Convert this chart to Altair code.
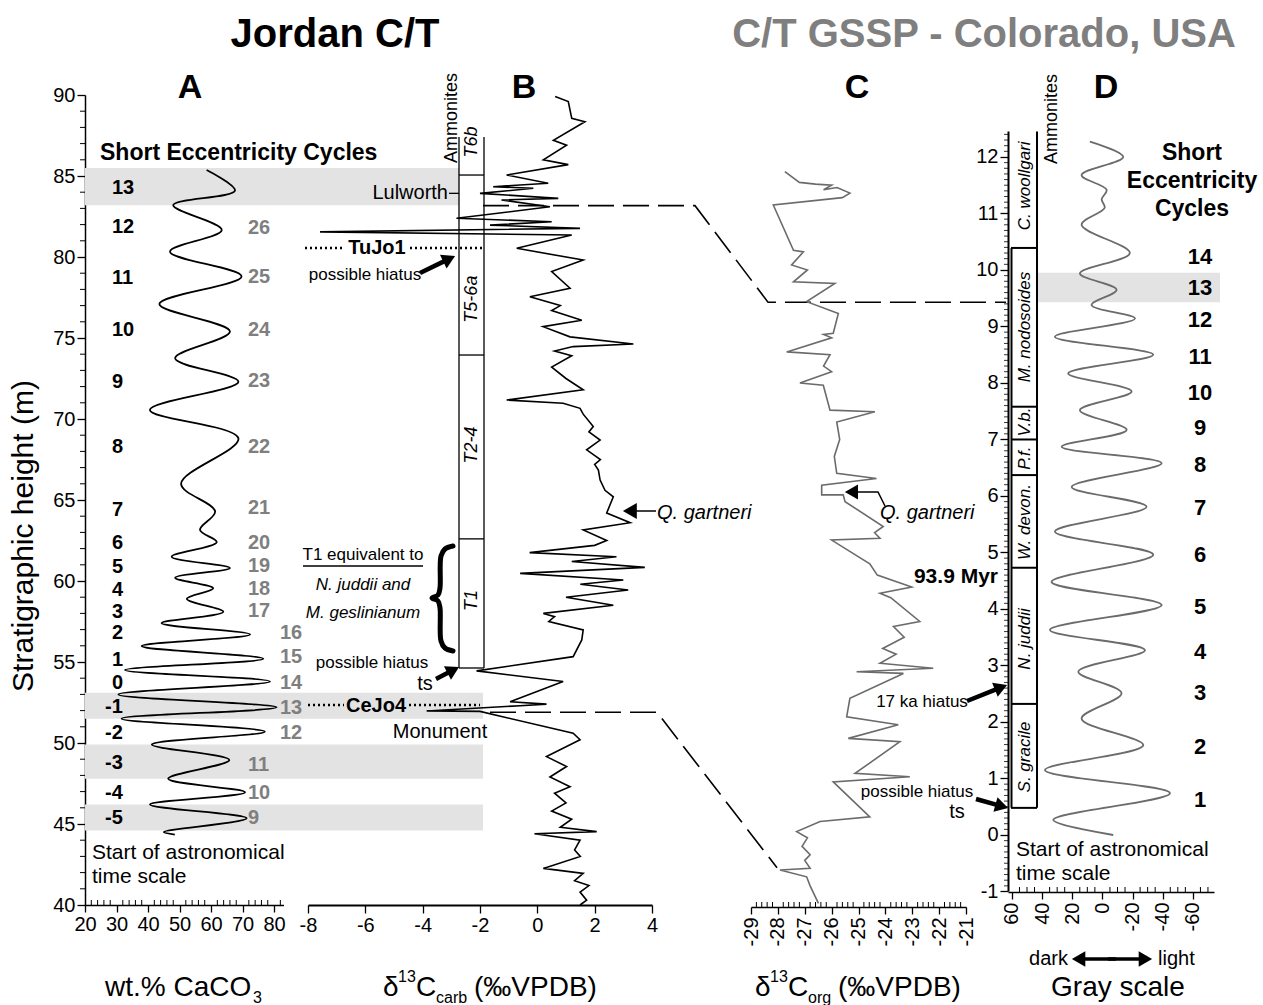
import math
import altair as alt
import pandas as pd

FONT = "Liberation Sans, Arial, Helvetica, sans-serif"
NARROW = "Liberation Sans Narrow, Arial Narrow, Liberation Sans, Arial, sans-serif"
W, H = 1130, 810
PADL, PADT, PADR, PADB = 85, 95, 48, 100
BAND = "#e3e3e3"
GTXT = "#7f7f7f"
GLINE = "#6b6b6b"

# ---------------- data ----------------
J_DOM = [40, 90]            # Jordan stratigraphic height (m)
C_DOM = [-1.239, 13.097]    # Colorado height (m), aligned to the same frame

A_CACO3 = [58.6, 67.6, 48.0, 63.4, 47.0, 69.7, 43.6, 66.0, 48.6, 68.7,
           40.6, 68.7, 50.5, 61.3, 56.5, 61.8, 47.5, 66.0, 48.6, 60.7,
           52.3, 63.9, 44.3, 72.4, 38.0, 76.6, 32.7, 78.7, 30.6, 80.8,
           31.6, 77.1, 41.2, 65.8, 46.4, 70.8, 40.6, 71.3, 45.0, 48.5]
A_HEIGHT = [85.37, 84.1, 83.2, 81.67, 80.33, 78.8, 77.1, 75.4, 73.75, 72.3,
            70.56, 68.8, 66.0, 64.3, 63.15, 62.4, 61.5, 60.8, 60.2, 59.55,
            58.9, 58.1, 57.4, 56.7, 55.98, 55.2, 54.5, 53.8, 53.0, 52.2,
            51.5, 50.7, 49.9, 48.95, 47.8, 46.96, 46.2, 45.35, 44.5, 44.35]

B_D13C = [0.62, 1.08, 1.2, 1.66, 0.56, 1.02, 0.21, 1.08, -1.07, 0.38,
          -1.54, -0.14, -2.0, 0.73, -1.25, 0.44, -2.82, 0.5, -1.65, 1.49,
          -7.58, 1.2, -0.72, 1.6, 0.5, 1.14,
          -0.26, 0.8, 0.5, 1.55, 0.2, 1.14, 3.35, 1.25, 0.6, 1.2,
          0.5, 1.0, 1.6, -1.07, 0.9, 1.49, 1.6, 1.95, 1.8, 2.19,
          1.72, 2.2, 2.0, 2.13, 2.19, 2.36, 2.65, 2.42, 3.24, 1.6,
          2.42, 2.0, -0.27, 2.76, 1.2, 3.75, -0.6, 3.0, 1.5, 3.17,
          1.0, 2.65, 0.21, 0.6, 0.4, 1.6, 1.55, 1.25, -2.12, 0.9,
          -0.95, 0.32, -0.6, -3.86, -2.0, 1.25, 1.49, 0.32, 1.02, 0.44,
          1.14, 0.6, 1.0, 0.5, 1.2, 0.8, 2.07, -0.1, 1.49, 1.3,
          1.5, 0.21, 1.6, 1.3, 1.8, 1.49, 1.72, 1.49]
B_HEIGHT = [89.9, 89.6, 88.56, 88.35, 87.2, 86.9, 86.0, 85.7, 85.06, 84.55,
            84.34, 84.24, 83.93, 83.62, 83.52, 83.1, 82.39, 82.18, 81.97, 81.77,
            81.55, 81.36, 80.54, 79.81, 79.1, 78.07,
            77.55, 77.0, 76.7, 76.1, 75.7, 75.07, 74.63, 74.47, 74.2, 73.9,
            73.2, 72.5, 71.8, 71.17, 70.97, 70.66, 70.3, 69.53, 69.2, 68.7,
            68.1, 67.5, 67.2, 66.85, 66.23, 65.6, 65.2, 64.2, 63.6, 63.15,
            62.5, 62.2, 61.75, 61.5, 61.2, 60.84, 60.47, 60.06, 59.8, 59.44,
            59.0, 58.5, 58.0, 57.8, 57.5, 56.98, 56.36, 55.33, 54.45, 53.8,
            52.55, 52.4, 52.3, 51.98, 51.95, 50.6, 50.2, 49.16, 48.55, 47.9,
            47.3, 46.9, 46.3, 45.8, 45.3, 44.8, 44.53, 44.4, 44.0, 43.4,
            43.0, 42.26, 41.95, 41.5, 41.2, 40.8, 40.3, 40.0]

C_D13C = [-27.74, -27.2, -26.6, -26.0, -26.3, -25.8, -25.32, -25.6, -28.17, -27.42,
          -27.05, -27.49, -26.9, -27.42, -25.88, -26.93, -25.75, -25.94, -26.3, -26.0,
          -27.67, -26.06, -26.3, -26.0, -27.18, -26.31, -26.06, -24.39, -25.81, -25.7,
          -25.9, -25.81, -24.33, -26.37, -26.37, -25.57, -25.5, -24.08, -24.4, -24.2,
          -26.0, -24.58, -24.3, -23.02, -24.2, -23.8, -22.72, -23.7, -23.3, -24.1,
          -23.6, -24.2, -22.22, -25.07, -23.33, -25.32, -25.44, -23.52, -25.38, -23.46,
          -25.13, -23.09, -25.94, -24.58, -26.43, -27.3, -26.9, -27.1, -26.8, -27.0,
          -26.8, -27.92, -26.93, -26.8, -26.49]
C_HEIGHT = [11.74, 11.55, 11.52, 11.50, 11.42, 11.46, 11.36, 11.28, 11.15, 10.35,
            10.32, 10.09, 10.0, 9.79, 9.76, 9.44, 9.23, 8.88, 8.86, 8.8,
            8.55, 8.5, 8.3, 8.2, 8.0, 7.96, 7.52, 7.49, 7.31, 7.0,
            6.7, 6.4, 6.31, 6.19, 6.02, 6.02, 5.9, 5.46, 5.35, 5.25,
            5.22, 4.8, 4.6, 4.39, 4.28, 4.2, 3.78, 3.69, 3.5, 3.3,
            3.2, 3.04, 2.95, 2.89, 2.86, 2.42, 2.09, 1.95, 1.71, 1.65,
            1.09, 1.03, 0.94, 0.32, 0.24, 0.06, -0.05, -0.2, -0.35, -0.45,
            -0.59, -0.62, -0.74, -0.9, -1.21]

D_GRAY = [8.3, -13.8, 13.8, -2.8, 0.5, -1.5, 13.8, -18.2, 14.9, -9.4,
          7.2, -21.6, 31.5, -33.7, 22.7, -19.4, 14.9, -16.1, 27.0, -39.3,
          20.4, -29.3, 31.5, -33.7, 33.7, -39.3, 34.8, -28.2, 16.0, -12.7,
          13.8, -27.1, 38.1, -44.8, 32.6, -7.2]
D_HEIGHT = [12.27, 12.0, 11.68, 11.42, 11.25, 11.1, 10.8, 10.3, 9.94, 9.65,
            9.38, 9.14, 8.82, 8.5, 8.17, 7.85, 7.52, 7.17, 6.87, 6.58,
            6.16, 5.81, 5.37, 4.96, 4.48, 4.07, 3.63, 3.27, 2.89, 2.51,
            2.06, 1.59, 1.15, 0.74, 0.27, 0.0]

# short eccentricity cycle labels
A_CYCLES = [13, 12, 11, 10, 9, 8, 7, 6, 5, 4, 3, 2, 1, 0, -1, -2, -3, -4, -5]
A_CYCLE_H = [84.26, 81.85, 78.7, 75.49, 72.28, 68.27, 64.38, 62.35, 60.86, 59.44,
             58.09, 56.79, 55.12, 53.7, 52.22, 50.62, 48.77, 46.91, 45.37]
A_CYCLES2 = [26, 25, 24, 23, 22, 21, 20, 19, 18, 17, 16, 15, 14, 13, 12, 11, 10, 9]
A_CYCLE2_H = [81.79, 78.77, 75.49, 72.35, 68.27, 64.51, 62.35, 60.93, 59.51, 58.15,
              56.79, 55.31, 53.7, 52.16, 50.62, 48.64, 46.91, 45.37]
D_CYCLES = [14, 13, 12, 11, 10, 9, 8, 7, 6, 5, 4, 3, 2, 1]
D_CYCLE_H = [10.23, 9.68, 9.12, 8.46, 7.82, 7.2, 6.55, 5.79, 4.96, 4.04,
             3.24, 2.51, 1.56, 0.62]

# grey cycle bands
J_BAND_LO = [83.2, 51.5, 47.8, 44.6]          # Jordan only
J_BAND_HI = [85.5, 53.1, 49.9, 46.2]
CORR_J_LO = [77.2, 70.6, 63.2, 60.2, 57.6, 54.5]   # correlated Jordan -> Colorado
CORR_J_HI = [80.5, 73.9, 66.0, 61.6, 58.8, 56.1]
CORR_C_LO = [8.18, 6.90, 5.38, 3.68, 2.07, 0.30]
CORR_C_HI = [8.81, 7.40, 6.19, 4.51, 2.88, 1.12]
C_BAND_LO = [9.43]                              # Colorado only
C_BAND_HI = [9.95]

# ammonite zones
J_ZONE_BOUNDS = [87.41, 85.06, 73.95, 62.6, 54.63]
J_ZONES = ["T6b", "T5-6a", "T2-4", "T1"]
J_ZONE_LABEL_H = [87.1, 77.4, 68.4, 58.8]
C_ZONE_BOUNDS = [12.45, 10.39, 7.58, 7.0, 6.37, 4.73, 2.32, 0.48]
C_ZONES = ["C. woollgari", "M. nodosoides", "V.b.", "P.f.", "W. devon.", "N. juddii", "S. gracile"]
C_ZONE_LABEL_H = [11.49, 8.99, 7.31, 6.67, 5.54, 3.47, 1.38]

# correlation (dashed) levels
LULWORTH_J = 83.17
LULWORTH_C = 9.43
MONUMENT_J = 51.9
MONUMENT_C = -0.58
TUJO1_H = 80.56
CEJO4_H = 52.35

# axis tick values
A_TICKS = [20, 30, 40, 50, 60, 70, 80]
B_TICKS = [-8, -6, -4, -2, 0, 2, 4]
C_TICKS = [-29, -28, -27, -26, -25, -24, -23, -22, -21]
D_TICKS = [60, 40, 20, 0, -20, -40, -60]
J_TICKS = [40, 45, 50, 55, 60, 65, 70, 75, 80, 85, 90]
CO_TICKS = list(range(-1, 13))


# ---------------- helpers ----------------
def co2jo(c):
    return J_DOM[0] + (c - C_DOM[0]) * (J_DOM[1] - J_DOM[0]) / (C_DOM[1] - C_DOM[0])


def S(domain, rng=None):
    kw = dict(domain=domain, nice=False, zero=False)
    if rng is not None:
        kw["range"] = rng
    return alt.Scale(**kw)


SJ = lambda: S(J_DOM)
SC = lambda: S(C_DOM)
SPX = lambda: S([PADL, PADL + W], [0, W])
SPY = lambda: S([PADT, PADT + H], [0, H])
SA = lambda: S([20, 83], [0, 198.5])
SB = lambda: S([-8, 4], [223, 567])
SCO = lambda: S([-29, -21], [666, 881])
SD = lambda: S([62.6, -74], [923, 1129])

AX = dict(grid=False, labelColor="black", tickColor="black",
          domainColor="black", tickWidth=1.3, title=None, labelOverlap=False,
          labelFlush=False, labelExpr="replace(datum.label, '\u2212', '-')")


def T(text, x, y, size, weight="normal", style="normal", align="center",
      baseline="middle", color="black", angle=0):
    return dict(text=str(text), x=x, y=y, size=size, weight=weight, style=style,
                align=align, baseline=baseline, color=color, angle=angle)


def text_layers(items, xs, ys):
    df = pd.DataFrame(items)
    out = []
    for (wt, st, al, bl), g in df.groupby(["weight", "style", "align", "baseline"]):
        out.append(alt.Chart(g).mark_text(font=FONT, fontWeight=wt, fontStyle=st,
                                          align=al, baseline=bl).encode(
            x=alt.X("x:Q", scale=xs(), axis=None),
            y=alt.Y("y:Q", scale=ys(), axis=None),
            text="text:N",
            size=alt.Size("size:Q", scale=None),
            color=alt.Color("color:N", scale=None),
            angle=alt.Angle("angle:Q", scale=None)))
    return out


def rules(df, xs, ys, color="black", **kw):
    return alt.Chart(df).mark_rule(color=color, **kw).encode(
        x=alt.X("x:Q", scale=xs(), axis=None), x2="x2:Q",
        y=alt.Y("y:Q", scale=ys(), axis=None), y2="y2:Q")


# ---------------- background group (px x, Jordan y) ----------------
jb = pd.DataFrame({"x": 85, "x2": 483, "y": J_BAND_LO, "y2": J_BAND_HI})
bands_j = alt.Chart(jb).mark_rect(color=BAND).encode(
    x=alt.X("x:Q", scale=SPX(), axis=None), x2="x2:Q",
    y=alt.Y("y:Q", scale=SJ(), axis=None), y2="y2:Q")

CONN_X0 = [702, 698, 700, 695, 658, 657]
CONN_X1 = [768, 765, 765, 792, 787, 805]
rows = []
for k in range(len(CORR_J_LO)):
    for xx, lo, hi in [(85, CORR_J_LO[k], CORR_J_HI[k]),
                       (CONN_X0[k], CORR_J_LO[k], CORR_J_HI[k]),
                       (CONN_X1[k], co2jo(CORR_C_LO[k]), co2jo(CORR_C_HI[k])),
                       (1220, co2jo(CORR_C_LO[k]), co2jo(CORR_C_HI[k]))]:
        rows.append(dict(band=k, x=xx, lo=lo, hi=hi))
conn = alt.Chart(pd.DataFrame(rows)).mark_area(color=BAND, orient="vertical").encode(
    x=alt.X("x:Q", scale=SPX(), axis=None),
    y=alt.Y("lo:Q", scale=SJ(), axis=None), y2="hi:Q",
    detail="band:N", order="x:Q")

jcol = alt.Chart(pd.DataFrame({"x": [459], "x2": [484], "y": [J_ZONE_BOUNDS[-1]],
                               "y2": [J_ZONE_BOUNDS[0]]})).mark_rect(color="white").encode(
    x=alt.X("x:Q", scale=SPX(), axis=None), x2="x2:Q",
    y=alt.Y("y:Q", scale=SJ(), axis=None), y2="y2:Q")

dash_rows = [dict(g=0, x=483, y=LULWORTH_J), dict(g=0, x=695, y=LULWORTH_J),
             dict(g=0, x=768, y=co2jo(LULWORTH_C)), dict(g=0, x=1006, y=co2jo(LULWORTH_C)),
             dict(g=1, x=490, y=MONUMENT_J), dict(g=1, x=657, y=MONUMENT_J),
             dict(g=1, x=777, y=co2jo(MONUMENT_C))]
dashed = alt.Chart(pd.DataFrame(dash_rows)).mark_line(
    color="black", strokeWidth=1.6, strokeDash=[26, 9]).encode(
    x=alt.X("x:Q", scale=SPX(), axis=None),
    y=alt.Y("y:Q", scale=SJ(), axis=None), detail="g:N", order="x:Q")

G_bg = alt.layer(bands_j, conn, jcol, dashed)

# ---------------- background group (px x, Colorado y) ----------------
cb = pd.DataFrame({"x": 1037, "x2": 1220, "y": C_BAND_LO, "y2": C_BAND_HI})
bands_c = alt.Chart(cb).mark_rect(color=BAND).encode(
    x=alt.X("x:Q", scale=SPX(), axis=None), x2="x2:Q",
    y=alt.Y("y:Q", scale=SC(), axis=None), y2="y2:Q")
ccol = alt.Chart(pd.DataFrame({"x": [1011], "x2": [1037], "y": [C_ZONE_BOUNDS[-1]],
                               "y2": [C_ZONE_BOUNDS[0]]})).mark_rect(color="white").encode(
    x=alt.X("x:Q", scale=SPX(), axis=None), x2="x2:Q",
    y=alt.Y("y:Q", scale=SC(), axis=None), y2="y2:Q")
G_bgC = alt.layer(bands_c, ccol)

# ---------------- panel A ----------------
dfA = pd.DataFrame({"v": A_CACO3, "h": A_HEIGHT, "i": range(len(A_CACO3))})
G_A = alt.Chart(dfA).mark_line(color="black", strokeWidth=1.8, interpolate="catmull-rom").encode(
    x=alt.X("v:Q", scale=SA(), axis=alt.Axis(orient="bottom", values=A_TICKS, tickSize=7,
                                              labelPadding=2, domainWidth=1.5,
                                              labelFont=NARROW, labelFontSize=20, **AX)),
    y=alt.Y("h:Q", scale=SJ(), axis=alt.Axis(orient="left", values=J_TICKS, tickSize=8,
                                              labelPadding=2, domainWidth=1.5,
                                              labelFont=FONT, labelFontSize=20, **AX)),
    order="i:Q")
a_xminor = alt.Chart(pd.DataFrame({"v": [v for v in range(22, 83, 2) if v % 10]})).mark_rule(
    color="black", strokeWidth=1).encode(
    x=alt.X("v:Q", scale=SA(), axis=None), y=alt.value(H), y2=alt.value(H - 5))
a_yminor = alt.Chart(pd.DataFrame({"h": [v for v in range(41, 90) if v % 5]})).mark_rule(
    color="black", strokeWidth=1).encode(
    y=alt.Y("h:Q", scale=SJ(), axis=None), x=alt.value(-5), x2=alt.value(0))

# ---------------- panel B ----------------
dfB = pd.DataFrame({"v": B_D13C, "h": B_HEIGHT, "i": range(len(B_D13C))})
G_B = alt.Chart(dfB).mark_line(color="black", strokeWidth=1.6).encode(
    x=alt.X("v:Q", scale=SB(), axis=alt.Axis(orient="bottom", values=B_TICKS, tickSize=8,
                                              labelPadding=2, domainWidth=2.2,
                                              labelFont=FONT, labelFontSize=20, **AX)),
    y=alt.Y("h:Q", scale=SJ(), axis=None), order="i:Q")

# ---------------- panel C ----------------
dfC = pd.DataFrame({"v": C_D13C, "h": C_HEIGHT, "i": range(len(C_D13C))})
G_C = alt.Chart(dfC).mark_line(color=GLINE, strokeWidth=1.6).encode(
    x=alt.X("v:Q", scale=SCO(), axis=alt.Axis(orient="bottom", values=C_TICKS, tickSize=7,
                                               offset=2, labelAngle=270, labelAlign="right",
                                               labelBaseline="middle", labelPadding=3,
                                               domainWidth=1.5, labelFont=FONT,
                                               labelFontSize=20, **AX)),
    y=alt.Y("h:Q", scale=SC(), axis=None), order="i:Q")
c_minor = alt.Chart(pd.DataFrame({"v": [round(-29 + 0.2 * k, 2) for k in range(41) if k % 5]})).mark_rule(
    color="black", strokeWidth=1).encode(
    x=alt.X("v:Q", scale=SCO(), axis=None), y=alt.value(H + 2), y2=alt.value(H - 3))

# ---------------- panel D ----------------
dfD = pd.DataFrame({"v": D_GRAY, "h": D_HEIGHT, "i": range(len(D_GRAY))})
G_D = alt.Chart(dfD).mark_line(color=GLINE, strokeWidth=1.8, interpolate="catmull-rom").encode(
    x=alt.X("v:Q", scale=SD(), axis=alt.Axis(orient="bottom", values=D_TICKS, tickSize=7,
                                              offset=-13, labelAngle=270, labelAlign="right",
                                              labelBaseline="middle", labelPadding=3,
                                              domainWidth=1.5, labelFont=FONT,
                                              labelFontSize=20, **AX)),
    y=alt.Y("h:Q", scale=SC(), axis=alt.Axis(orient="left", offset=-923, values=CO_TICKS,
                                              tickSize=8, domain=False, labelPadding=2,
                                              labelFont=FONT, labelFontSize=20, **AX)),
    order="i:Q")
d_xminor = alt.Chart(pd.DataFrame({"v": [v for v in range(60, -75, -5) if v % 20]})).mark_rule(
    color="black", strokeWidth=1).encode(
    x=alt.X("v:Q", scale=SD(), axis=None), y=alt.value(797), y2=alt.value(792))
d_yminor = alt.Chart(pd.DataFrame({"h": [round(-1 + 0.1 * k, 2) for k in range(135) if k % 10]})).mark_rule(
    color="black", strokeWidth=0.8).encode(
    y=alt.Y("h:Q", scale=SC(), axis=None), x=alt.value(919), x2=alt.value(923))

# ---------------- foreground (px x, Jordan y) ----------------
jr = []
jr.append(dict(x=459, x2=459, y=J_ZONE_BOUNDS[-1], y2=J_ZONE_BOUNDS[0]))
jr.append(dict(x=484, x2=484, y=J_ZONE_BOUNDS[-1], y2=J_ZONE_BOUNDS[0]))
for b in J_ZONE_BOUNDS[1:]:
    jr.append(dict(x=459, x2=484, y=b, y2=b))
jr.append(dict(x=449, x2=459, y=83.93, y2=83.93))   # Lulworth leader
j_rules = rules(pd.DataFrame(jr), SPX, SJ, strokeWidth=1.3)
dots = pd.DataFrame([dict(x=305, x2=345, y=TUJO1_H, y2=TUJO1_H),
                     dict(x=410, x2=482, y=TUJO1_H, y2=TUJO1_H),
                     dict(x=308, x2=344, y=CEJO4_H, y2=CEJO4_H),
                     dict(x=409, x2=480, y=CEJO4_H, y2=CEJO4_H)])
j_dots = rules(dots, SPX, SJ, strokeWidth=2.6, strokeDash=[2, 3])

cyc = [T(n, 105 if n < 0 else 112, h, 20, weight="bold", align="left")
       for n, h in zip(A_CYCLES, A_CYCLE_H)]
cyc += [T(n, 280 if 12 <= n <= 16 else 248, h, 20, weight="bold", align="left", color=GTXT)
        for n, h in zip(A_CYCLES2, A_CYCLE2_H)]
cyc += [T(z, 472, h, 18, style="italic", angle=270) for z, h in zip(J_ZONES, J_ZONE_LABEL_H)]
G_fgJ = alt.layer(j_rules, j_dots, *text_layers(cyc, SPX, SJ))

# ---------------- foreground (px x, Colorado y) ----------------
cr = [dict(x=1008.5, x2=1008.5, y=-1, y2=12.45)]   # axis line
cr.append(dict(x=1037, x2=1037, y=C_ZONE_BOUNDS[-1], y2=C_ZONE_BOUNDS[0]))
cr.append(dict(x=1011.5, x2=1011.5, y=C_ZONE_BOUNDS[-1], y2=C_ZONE_BOUNDS[1]))
for b in C_ZONE_BOUNDS[1:]:
    cr.append(dict(x=1011, x2=1037, y=b, y2=b))
c_rules = rules(pd.DataFrame(cr), SPX, SC, strokeWidth=2)
dcy = [T(n, 1200, h, 22, weight="bold") for n, h in zip(D_CYCLES, D_CYCLE_H)]
dcy += [T(z, 1025, h, 17, style="italic", angle=270) for z, h in zip(C_ZONES, C_ZONE_LABEL_H)]
G_fgC = alt.layer(c_rules, *text_layers(dcy, SPX, SC))

# ---------------- free annotations (px x, px y) ----------------
ann = [
    T("Jordan C/T", 335, 35, 40, weight="bold"),
    T("C/T GSSP - Colorado, USA", 984, 35, 40, weight="bold", color=GTXT),
    T("A", 190, 88, 34, weight="bold"), T("B", 524, 88, 34, weight="bold"),
    T("C", 857, 88, 34, weight="bold"), T("D", 1106, 88, 34, weight="bold"),
    T("Stratigraphic height (m)", 24, 536, 30, angle=270),
    T("Short Eccentricity Cycles", 100, 153, 23, weight="bold", align="left"),
    T("Short", 1192, 153, 23, weight="bold"), T("Eccentricity", 1192, 181, 23, weight="bold"),
    T("Cycles", 1192, 209, 23, weight="bold"),
    T("Start of astronomical", 92, 853, 21, align="left"), T("time scale", 92, 877, 21, align="left"),
    T("Start of astronomical", 1016, 850, 21, align="left"), T("time scale", 1016, 874, 21, align="left"),
    T("Ammonites", 452, 118, 18, angle=270), T("Ammonites", 1052, 119, 18, angle=270),
    T("Lulworth", 448, 193, 20, align="right"),
    T("TuJo1", 377, 248, 20, weight="bold"),
    T("possible hiatus", 365, 275, 17),
    T("T1 equivalent to", 363, 555, 17),
    T("N. juddii and", 363, 585, 17, style="italic"),
    T("M. geslinianum", 363, 613, 17, style="italic"),
    T("possible hiatus", 372, 663, 17), T("ts", 425, 684, 20),
    T("CeJo4", 376, 706, 20, weight="bold"),
    T("Monument", 440, 732, 20),
    T("Q. gartneri", 657, 513, 20, style="italic", align="left"),
    T("Q. gartneri", 880, 513, 20, style="italic", align="left"),
    T("93.9 Myr", 998, 577, 21, weight="bold", align="right"),
    T("17 ka hiatus", 922, 702, 17),
    T("possible hiatus", 917, 792, 17), T("ts", 957, 812, 20),
    T("dark", 1068, 959, 20, align="right"), T("light", 1158, 959, 20, align="left"),
    # axis titles
    T("wt.% CaCO", 105, 996, 28, align="left", baseline="alphabetic"),
    T("3", 253, 1003, 16, align="left", baseline="alphabetic"),
    T("\u03b4", 383, 996, 28, align="left", baseline="alphabetic"),
    T("13", 398, 982, 16, align="left", baseline="alphabetic"),
    T("C", 416, 996, 28, align="left", baseline="alphabetic"),
    T("carb", 436, 1003, 16, align="left", baseline="alphabetic"),
    T("(\u2030VPDB)", 474, 996, 28, align="left", baseline="alphabetic"),
    T("\u03b4", 755, 996, 28, align="left", baseline="alphabetic"),
    T("13", 770, 982, 16, align="left", baseline="alphabetic"),
    T("C", 788, 996, 28, align="left", baseline="alphabetic"),
    T("org", 808, 1003, 16, align="left", baseline="alphabetic"),
    T("(\u2030VPDB)", 838, 996, 28, align="left", baseline="alphabetic"),
    T("Gray scale", 1118, 996, 28, baseline="alphabetic"),
]
ann_layers = text_layers(ann, SPX, SPY)

# underline of "T1 equivalent to"
ul = rules(pd.DataFrame([dict(x=303, x2=423, y=566, y2=566)]), SPX, SPY, strokeWidth=1.3)

# arrows: shaft + triangular head
ARROWS = [(420, 273, 455, 256, 4.5, 230), (436, 679, 459, 667, 4.5, 230),
          (656, 511, 623, 511, 1.5, 260), (860, 492, 845, 492, 1.5, 230),
          (967, 701, 1007, 685, 4.5, 230), (976, 799, 1008, 808, 4.5, 230),
          (1108, 959, 1152, 959, 3.5, 240), (1116, 959, 1072, 959, 3.5, 240)]
shafts, heads = [], []
for x0, y0, x1, y1, w, hs in ARROWS:
    L = math.hypot(x1 - x0, y1 - y0)
    ux, uy = (x1 - x0) / L, (y1 - y0) / L
    hl = math.sqrt(hs) * 0.85
    shafts.append(dict(x=x0, y=y0, x2=x1 - ux * hl * 0.6, y2=y1 - uy * hl * 0.6, w=w))
    heads.append(dict(x=x1 - ux * hl * 0.5, y=y1 - uy * hl * 0.5, s=hs,
                      a=(math.degrees(math.atan2(uy, ux)) + 360) % 360))
shaft_l = alt.Chart(pd.DataFrame(shafts)).mark_rule(color="black").encode(
    x=alt.X("x:Q", scale=SPX(), axis=None), x2="x2:Q",
    y=alt.Y("y:Q", scale=SPY(), axis=None), y2="y2:Q",
    strokeWidth=alt.StrokeWidth("w:Q", scale=None))
head_l = alt.Chart(pd.DataFrame(heads)).mark_point(shape="triangle-right", filled=True,
                                                   color="black", opacity=1).encode(
    x=alt.X("x:Q", scale=SPX(), axis=None),
    y=alt.Y("y:Q", scale=SPY(), axis=None),
    size=alt.Size("s:Q", scale=None), angle=alt.Angle("a:Q", scale=None))
bent = alt.Chart(pd.DataFrame({"x": [885, 878, 860], "y": [506, 492, 492], "i": [0, 1, 2]})).mark_line(
    color="black", strokeWidth=1.5).encode(
    x=alt.X("x:Q", scale=SPX(), axis=None), y=alt.Y("y:Q", scale=SPY(), axis=None), order="i:Q")
# curly brace
BR_X = [453, 445, 441, 440, 438, 432, 438, 440, 441, 445, 453]
BR_Y = [546, 549, 556, 588, 595, 598, 601, 608, 641, 648, 651]
brace = alt.Chart(pd.DataFrame({"x": BR_X, "y": BR_Y, "i": range(len(BR_X))})).mark_line(
    color="black", strokeWidth=5, interpolate="catmull-rom", strokeCap="round").encode(
    x=alt.X("x:Q", scale=SPX(), axis=None), y=alt.Y("y:Q", scale=SPY(), axis=None), order="i:Q")

G_px = alt.layer(ul, shaft_l, head_l, bent, brace, *ann_layers)

chart = alt.layer(G_bg, G_bgC, G_A, a_xminor, a_yminor, G_B, G_C, c_minor,
                  G_D, d_xminor, d_yminor, G_fgJ, G_fgC, G_px).resolve_scale(
    x="independent", y="independent").properties(
    width=W, height=H, background="white",
    autosize=alt.AutoSizeParams(type="none"),
    padding={"left": PADL, "top": PADT, "right": PADR, "bottom": PADB}
).configure_view(stroke=None)

chart.save("out.html", embed_options={"renderer": "svg", "actions": False})
